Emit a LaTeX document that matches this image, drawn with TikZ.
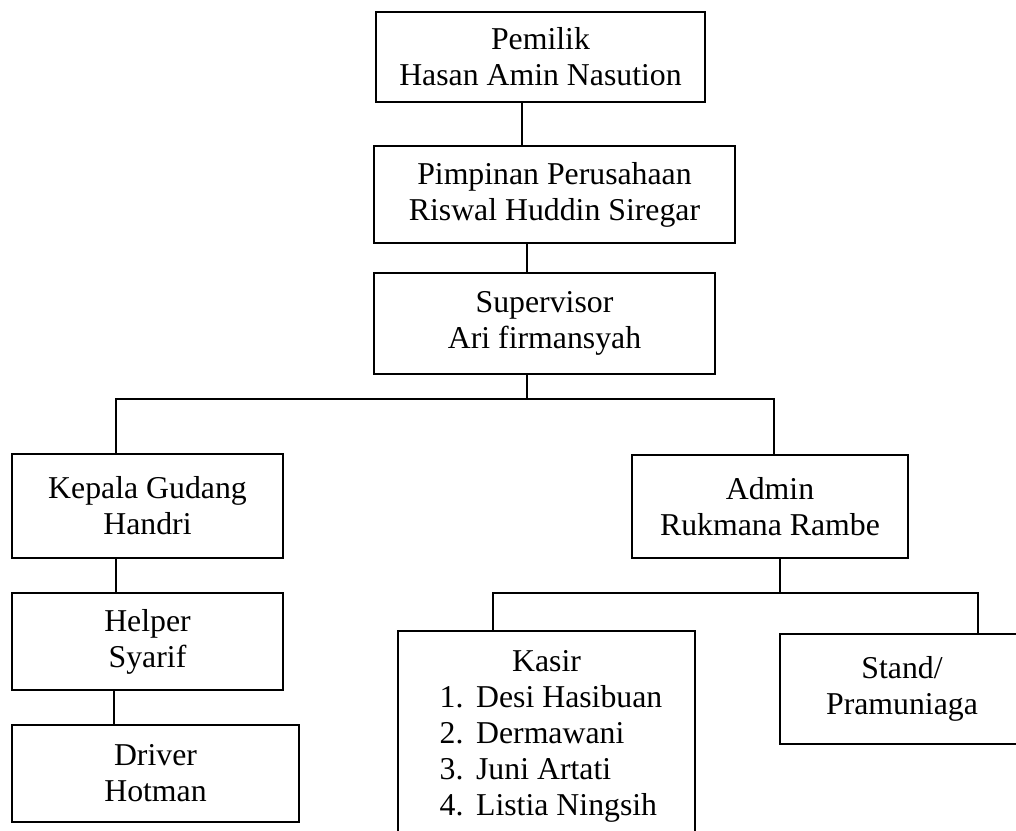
\documentclass[tikz,border=0pt]{standalone}
\usepackage{fontspec}
\setmainfont{Liberation Serif}
\usetikzlibrary{positioning}
\def\pu{0.025cm}

\begin{document}
\begin{tikzpicture}[x=\pu,y=-\pu,
  obox/.style={draw,line width=1.3pt,align=center,inner sep=0pt,
    font=\fontsize{22.6}{25.6}\selectfont},
  link/.style={line width=1pt}]

\useasboundingbox (0,0) rectangle (1016,830);
\clip (0,0) rectangle (1016,830);

 % top chain
 \node[obox,minimum width=329*\pu,minimum height=90*\pu] (own) at (540.5,57) {Pemilik\\Hasan Amin Nasution};
 \node[obox,minimum width=361*\pu,minimum height=97*\pu] (lead) at (554.5,194.5) {Pimpinan Perusahaan\\Riswal Huddin Siregar};
 \node[obox,minimum width=341*\pu,minimum height=101*\pu] (sup) at (544.5,323.5) {Supervisor\\Ari firmansyah};

 % left branch
 \node[obox,minimum width=271*\pu,minimum height=104*\pu] (gud) at (147.5,506) {Kepala Gudang\\Handri};
 \node[obox,minimum width=271*\pu,minimum height=97*\pu] (help) at (147.5,641.5) {Helper\\Syarif};
 \node[obox,minimum width=287*\pu,minimum height=97*\pu] (drv) at (155.5,773.5) {Driver\\Hotman};

 % right branch
 \node[obox,minimum width=276*\pu,minimum height=103*\pu] (adm) at (770,506.5) {Admin\\Rukmana Rambe};
 \node[obox,minimum width=297*\pu,minimum height=210*\pu] (kas) at (546.5,736)
  {\begin{tabular}{@{\hspace{6.4pt}}l@{\hspace{9pt}}l@{}}
   \multicolumn{2}{c}{Kasir}\\
   1. & Desi Hasibuan\\
   2. & Dermawani\\
   3. & Juni Artati\\
   4. & Listia Ningsih
  \end{tabular}};
 \node[obox,minimum width=244*\pu,minimum height=110*\pu] (std) at (902,689) {Stand/\\Pramuniaga};

 \coordinate (c1) at (522,0);
 \coordinate (c2) at (527,0);
 \coordinate (bus1) at (527,399);
 \coordinate (busL) at (116,399);
 \coordinate (busR) at (774,399);
 \coordinate (c3) at (114,0);
 \coordinate (bus2) at (780,593);
 \coordinate (busK) at (493,593);
 \coordinate (busS) at (978,593);

 \draw[link] (own.south -| c1) -- (lead.north -| c1)
  (lead.south -| c2) -- (sup.north -| c2)
  (sup.south -| bus1) -- (bus1);
 \draw[link] (gud.north -| busL) -- (busL) -- (busR) -- (adm.north -| busR);

 % lines on left side
 \draw[link] (gud.south -| busL) -- (help.north -| busL)
  (help.south -| c3) -- (drv.north -| c3);

 % lines on right side
 \draw[link] (adm.south -| bus2) -- (bus2);
 \draw[link] (kas.north -| busK) -- (busK) -- (busS) -- (std.north -| busS);

\end{tikzpicture}
\end{document}
